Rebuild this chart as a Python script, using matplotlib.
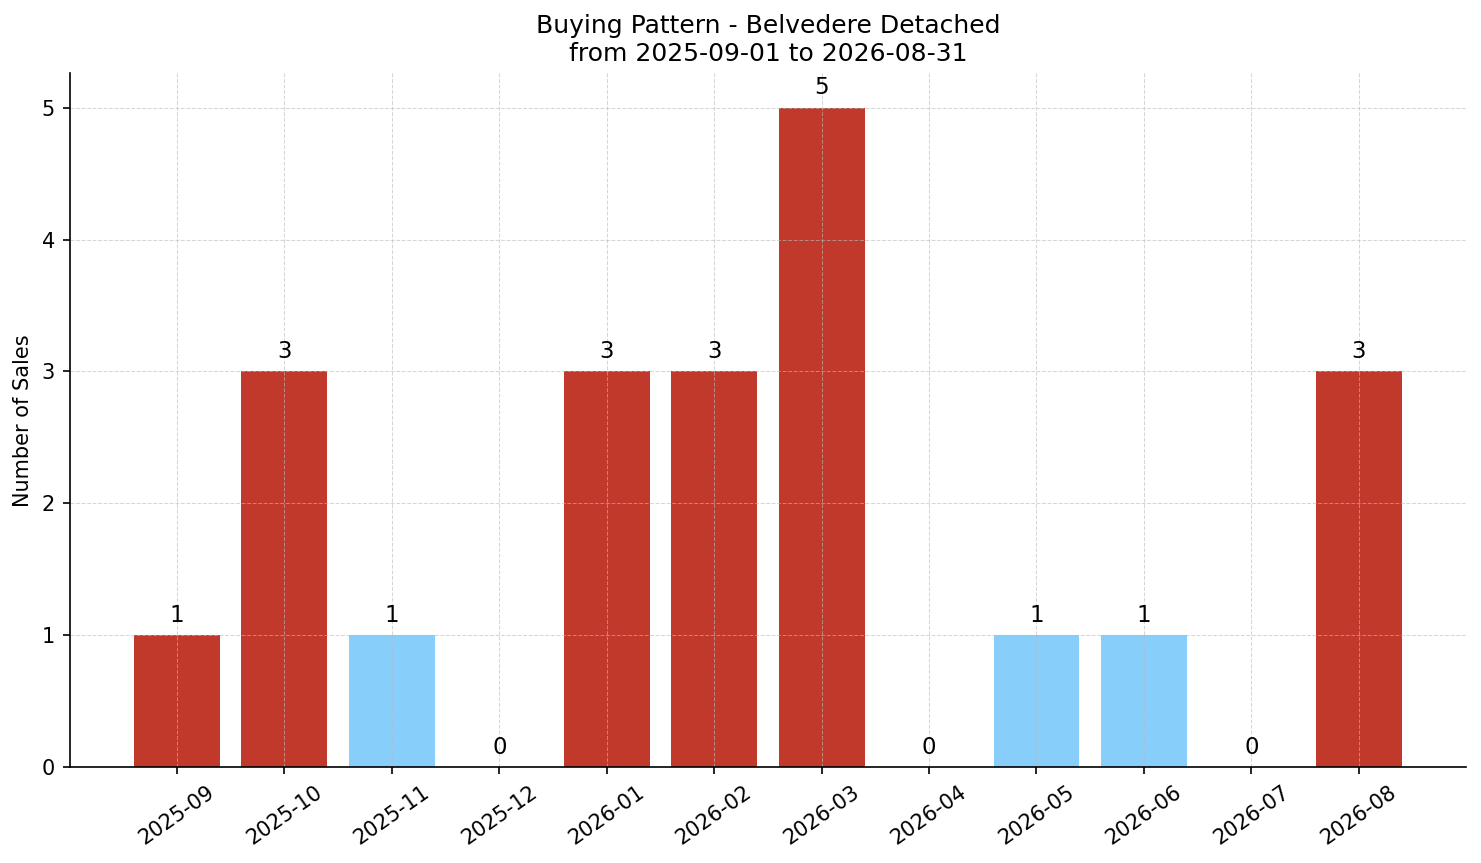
import matplotlib.pyplot as plt

months = ["2025-09", "2025-10", "2025-11", "2025-12", "2026-01", "2026-02",
          "2026-03", "2026-04", "2026-05", "2026-06", "2026-07", "2026-08"]
sales = [1, 3, 1, 0, 3, 3, 5, 0, 1, 1, 0, 3]
bar_colors = ["#c0392b", "#c0392b", "#87cefa", "#87cefa", "#c0392b", "#c0392b",
              "#c0392b", "#87cefa", "#87cefa", "#87cefa", "#87cefa", "#c0392b"]

if __name__ == '__main__':
    fig, ax = plt.subplots(figsize=(1481 / 150, 863 / 150), dpi=150)
    x = range(len(months))
    bars = ax.bar(x, sales, color=bar_colors, width=0.8)
    ax.bar_label(bars, labels=[f"{v}" for v in sales], padding=4, fontsize=11)

    ax.set_xticks(list(x))
    ax.set_xticklabels(months, rotation=35, ha="center", fontsize=10)
    ax.tick_params(axis="y", labelsize=10)
    ax.set_xlim(-1, 12)
    ax.set_ylim(0, 5.26)
    ax.set_ylabel("Number of Sales", fontsize=10)
    ax.set_title("Buying Pattern - Belvedere Detached\nfrom 2025-09-01 to 2026-08-31", fontsize=12)
    ax.grid(True, linestyle="--", color="#bbbbbb", alpha=0.6, linewidth=0.5)
    ax.spines["top"].set_visible(False)
    ax.spines["right"].set_visible(False)

    plt.subplots_adjust(left=0.047, right=0.99, top=0.915, bottom=0.111)
    plt.savefig("out.png")
